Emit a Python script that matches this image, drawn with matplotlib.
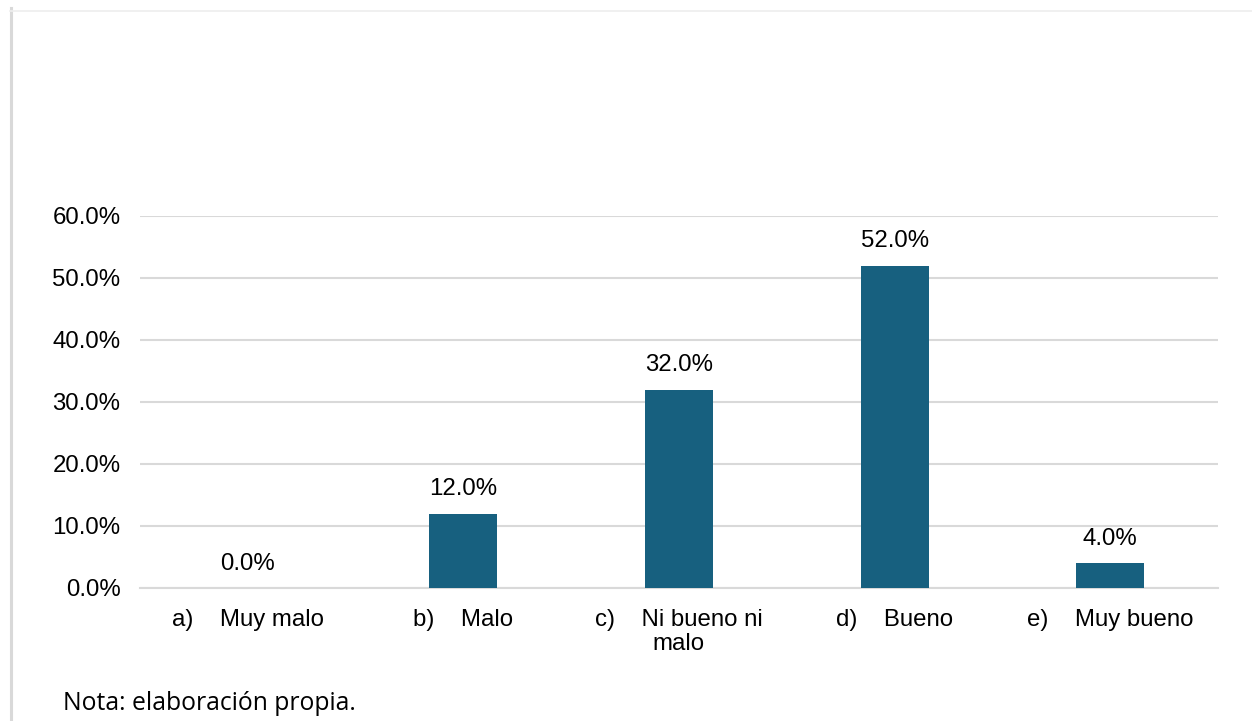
import matplotlib.pyplot as plt
from matplotlib.lines import Line2D

# data
letters = ['a)', 'b)', 'c)', 'd)', 'e)']
categories = ['Muy malo', 'Malo', 'Ni bueno ni\nmalo', 'Bueno', 'Muy bueno']
values = [0.0, 12.0, 32.0, 52.0, 4.0]
yticks = [0, 10, 20, 30, 40, 50, 60]

plt.rcParams['font.family'] = ['Liberation Sans', 'DejaVu Sans']

fig = plt.figure(figsize=(12.52, 7.21), dpi=100)
ax = fig.add_axes([140 / 1252, 1 - 588 / 721, 1078 / 1252, 372 / 721])

x = range(len(values))
bars = ax.bar(x, values, width=0.315, color='#17607F', zorder=3)

for xi, v in zip(x, values):
    ax.annotate(f'{v:.1f}%', (xi, v), xytext=(0, 17.5), textcoords='offset points',
                ha='center', va='center', fontsize=17.3, color='#000000')

ax.set_xlim(-0.5, len(values) - 0.5)
ax.set_ylim(0, 60)
ax.set_yticks(yticks)
ax.set_yticklabels([f'{t:.1f}%' for t in yticks], fontsize=17.3)
ax.tick_params(axis='y', length=0, pad=14)
ax.grid(axis='y', color='#D9D9D9', linewidth=1.5, zorder=0)

# category labels with letter prefix
ax.set_xticks(list(x))
labels = []
for l, c in zip(letters, categories):
    lines = c.split('\n')
    first = l + '    ' + lines[0]
    labels.append('\n'.join([first] + lines[1:]))
ax.set_xticklabels(labels, fontsize=17.3, linespacing=1.1)
ax.tick_params(axis='x', length=0, pad=15)

for s in ['top', 'right', 'left']:
    ax.spines[s].set_visible(False)
ax.spines['bottom'].set_color('#D9D9D9')
ax.spines['bottom'].set_linewidth(1.5)

# frame lines around the figure
fig.add_artist(Line2D([10.5 / 1252, 10.5 / 1252], [0, 1 - 8 / 721], color='#D9D9D9', linewidth=2.2))
fig.add_artist(Line2D([10 / 1252, 1], [1 - 10.5 / 721, 1 - 10.5 / 721], color='#EEEEEE', linewidth=1.2))

fig.text(63 / 1252, 1 - 704 / 721, 'Nota: elaboración propia.', fontsize=17.8,
         family=['Open Sans', 'DejaVu Sans'], va='center', ha='left')

fig.savefig('out.png', dpi=100)
